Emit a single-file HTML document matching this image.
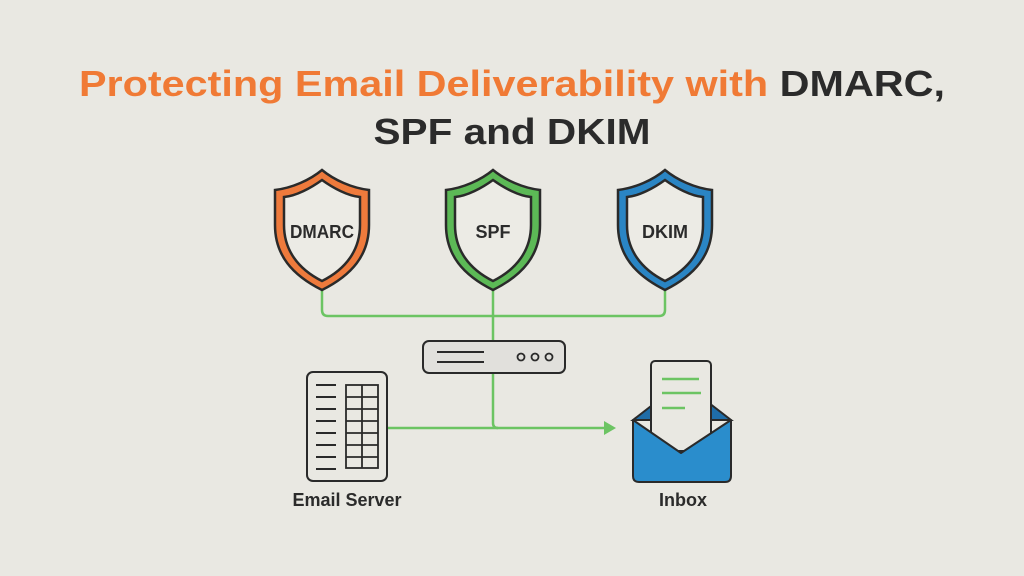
<!DOCTYPE html>
<html><head><meta charset="utf-8"><style>
html,body{margin:0;padding:0;background:#e9e8e2;}
svg{display:block}
text{font-family:"Liberation Sans",sans-serif;font-weight:bold}
</style></head><body>
<svg width="1024" height="576" viewBox="0 0 1024 576" xmlns="http://www.w3.org/2000/svg">
<rect width="1024" height="576" fill="#e9e8e2"/>
<text x="512" y="96" font-size="36" text-anchor="middle" textLength="866" lengthAdjust="spacingAndGlyphs"><tspan fill="#f07a35">Protecting Email Deliverability with </tspan><tspan fill="#2b2b2b">DMARC,</tspan></text>
<text x="512" y="144" font-size="36" fill="#2b2b2b" text-anchor="middle" textLength="277" lengthAdjust="spacingAndGlyphs">SPF and DKIM</text>

<defs>
<path id="sh" d="M0,-60 C-12,-50 -30,-42 -47,-40 L-47,-5 C-47,25 -30,45 0,60 C30,45 47,25 47,-5 L47,-40 C30,-42 12,-50 0,-60 Z"/>
<path id="shi" d="M0,-50 C-11,-42 -26,-34 -38,-33 L-38,-5 C-38,20 -24,39 0,51 C24,39 38,20 38,-5 L38,-33 C26,-34 11,-42 0,-50 Z"/>
</defs>
<g fill="none" stroke="#6cc463" stroke-width="2.5">
<path d="M322,290 V310 Q322,316 328,316 H659 Q665,316 665,310 V290"/>
<path d="M493,290 V341"/>
<path d="M493,373 V423 Q493,428 498,428"/>
<path d="M387,428 H606"/>
</g>
<path d="M604,421 L616,428 L604,435 Z" fill="#6cc463"/>

<g transform="translate(322,230)"><use href="#sh" fill="#ee7a3c" stroke="#2a2a2a" stroke-width="2.5"/><use href="#shi" fill="#ecebe5" stroke="#2a2a2a" stroke-width="2.5"/></g>
<g transform="translate(493,230)"><use href="#sh" fill="#5cb956" stroke="#2a2a2a" stroke-width="2.5"/><use href="#shi" fill="#ecebe5" stroke="#2a2a2a" stroke-width="2.5"/></g>
<g transform="translate(665,230)"><use href="#sh" fill="#2a85c4" stroke="#2a2a2a" stroke-width="2.5"/><use href="#shi" fill="#ecebe5" stroke="#2a2a2a" stroke-width="2.5"/></g>
<text x="322" y="238" font-size="18" fill="#2b2b2b" text-anchor="middle" textLength="64" lengthAdjust="spacingAndGlyphs">DMARC</text>
<text x="493" y="238" font-size="18" fill="#2b2b2b" text-anchor="middle">SPF</text>
<text x="665" y="238" font-size="18" fill="#2b2b2b" text-anchor="middle">DKIM</text>

<rect x="423" y="341" width="142" height="32" rx="6" fill="#e1e0dc" stroke="#2a2a2a" stroke-width="2"/>
<g stroke="#2a2a2a" stroke-width="2"><line x1="437" y1="352" x2="484" y2="352"/><line x1="437" y1="362" x2="484" y2="362"/></g>
<g fill="none" stroke="#2a2a2a" stroke-width="1.8"><circle cx="521" cy="357" r="3.5"/><circle cx="535" cy="357" r="3.5"/><circle cx="549" cy="357" r="3.5"/></g>

<rect x="307" y="372" width="80" height="109" rx="6" fill="#e9e8e2" stroke="#2a2a2a" stroke-width="2"/>
<g stroke="#2a2a2a" stroke-width="2">
<line x1="316" y1="385" x2="336" y2="385"/><line x1="316" y1="397" x2="336" y2="397"/><line x1="316" y1="409" x2="336" y2="409"/><line x1="316" y1="421" x2="336" y2="421"/><line x1="316" y1="433" x2="336" y2="433"/><line x1="316" y1="445" x2="336" y2="445"/><line x1="316" y1="457" x2="336" y2="457"/><line x1="316" y1="469" x2="336" y2="469"/>
</g>
<g fill="none" stroke="#2a2a2a" stroke-width="1.8">
<rect x="346" y="385" width="32" height="83"/>
<line x1="362" y1="385" x2="362" y2="468"/>
<line x1="346" y1="397" x2="378" y2="397"/><line x1="346" y1="409" x2="378" y2="409"/><line x1="346" y1="421" x2="378" y2="421"/><line x1="346" y1="433" x2="378" y2="433"/><line x1="346" y1="445" x2="378" y2="445"/><line x1="346" y1="457" x2="378" y2="457"/>
</g>

<path d="M633,420 L655,403 L709,403 L731,420 Z" fill="#1f6da8" stroke="#2a2a2a" stroke-width="2"/>
<rect x="651" y="361" width="60" height="90" rx="4" fill="#e9e8e2" stroke="#2a2a2a" stroke-width="2"/>
<g stroke="#6cc463" stroke-width="2.5"><line x1="662" y1="379" x2="699" y2="379"/><line x1="662" y1="393" x2="701" y2="393"/><line x1="662" y1="408" x2="685" y2="408"/></g>
<path d="M633,420 L681,453 L731,420 L731,476 Q731,482 725,482 L639,482 Q633,482 633,476 Z" fill="#2a8dcc" stroke="#2a2a2a" stroke-width="2" stroke-linejoin="round"/>

<text x="347" y="506" font-size="18" fill="#2b2b2b" text-anchor="middle">Email Server</text>
<text x="683" y="506" font-size="18" fill="#2b2b2b" text-anchor="middle">Inbox</text>
</svg>
</body></html>
